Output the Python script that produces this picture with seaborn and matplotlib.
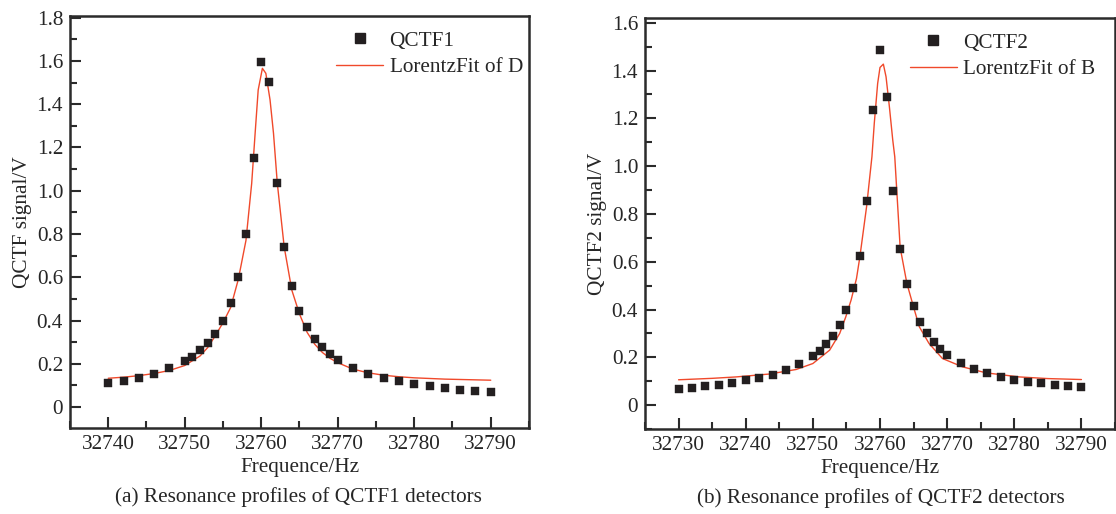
import numpy as np
import pandas as pd
import matplotlib
matplotlib.use("Agg")
import matplotlib.pyplot as plt
from matplotlib.ticker import MultipleLocator
from matplotlib.lines import Line2D
import seaborn as sns

# ---------------- data ----------------
freq1 = [32740, 32742, 32744, 32746, 32748, 32750, 32751, 32752, 32753, 32754,
         32755, 32756, 32757, 32758, 32759, 32760, 32761, 32762, 32763, 32764,
         32765, 32766, 32767, 32768, 32769, 32770, 32772, 32774, 32776, 32778,
         32780, 32782, 32784, 32786, 32788, 32790]
sig1 = [0.111, 0.122, 0.136, 0.154, 0.179, 0.211, 0.233, 0.262, 0.295, 0.338,
        0.397, 0.480, 0.600, 0.801, 1.150, 1.594, 1.501, 1.037, 0.738, 0.559,
        0.444, 0.370, 0.316, 0.276, 0.244, 0.218, 0.181, 0.154, 0.133, 0.119,
        0.105, 0.096, 0.088, 0.080, 0.074, 0.069]

fit1_x = [32740, 32742, 32744, 32746, 32748, 32750, 32752, 32753, 32754, 32755,
          32756, 32757, 32758, 32758.75, 32759.2, 32759.6, 32760.15, 32760.6,
          32761.15, 32761.6, 32762.1, 32763, 32764, 32765, 32766, 32767, 32768,
          32769, 32770, 32772, 32774, 32776, 32778, 32780, 32784, 32790]
fit1_y = [0.133, 0.138, 0.145, 0.155, 0.169, 0.192, 0.236, 0.275, 0.330, 0.390,
          0.460, 0.590, 0.770, 1.034, 1.266, 1.466, 1.566, 1.543,
          1.420, 1.266, 1.034, 0.740, 0.540, 0.430, 0.345, 0.290, 0.252,
          0.225, 0.205, 0.175, 0.158, 0.147, 0.140, 0.135, 0.129, 0.124]

freq2 = [32730, 32732, 32734, 32736, 32738, 32740, 32742, 32744, 32746, 32748,
         32750, 32751, 32752, 32753, 32754, 32755, 32756, 32757, 32758, 32759,
         32760, 32761, 32762, 32763, 32764, 32765, 32766, 32767, 32768, 32769,
         32770, 32772, 32774, 32776, 32778, 32780, 32782, 32784, 32786, 32788,
         32790]
sig2 = [0.068, 0.073, 0.078, 0.086, 0.093, 0.103, 0.114, 0.128, 0.146, 0.172,
        0.205, 0.227, 0.255, 0.290, 0.335, 0.398, 0.490, 0.625, 0.855, 1.234,
        1.488, 1.289, 0.898, 0.654, 0.508, 0.413, 0.347, 0.300, 0.262, 0.234,
        0.211, 0.177, 0.152, 0.133, 0.117, 0.106, 0.098, 0.091, 0.084, 0.080,
        0.074]

fit2_x = [32730, 32735, 32738.6, 32743.5, 32747.5, 32750, 32752.5, 32754, 32754.9,
          32755.7, 32756.5, 32757, 32758, 32758.8, 32759.15, 32759.65, 32760.0,
          32760.5, 32760.9, 32761.4, 32761.9, 32762.2, 32763, 32764, 32764.9,
          32765.85, 32767.3, 32769.3, 32772.3, 32775.8, 32780.7, 32785, 32790]
fit2_y = [0.106, 0.112, 0.118, 0.130, 0.149, 0.174, 0.230, 0.300, 0.369,
          0.440, 0.530, 0.620, 0.830, 1.040, 1.180, 1.346, 1.413,
          1.427, 1.374, 1.248, 1.109, 1.039, 0.660, 0.510, 0.420,
          0.328, 0.258, 0.195, 0.160, 0.135, 0.118, 0.111, 0.107]

xticks1 = [32740, 32750, 32760, 32770, 32780, 32790]
xticks2 = [32730, 32740, 32750, 32760, 32770, 32780, 32790]
yticks1 = [0, 0.2, 0.4, 0.6, 0.8, 1.0, 1.2, 1.4, 1.6, 1.8]
yticks2 = [0, 0.2, 0.4, 0.6, 0.8, 1.0, 1.2, 1.4, 1.6]
ytick_labels1 = ["0", "0.2", "0.4", "0.6", "0.8", "1.0", "1.2", "1.4", "1.6", "1.8"]
ytick_labels2 = ["0", "0.2", "0.4", "0.6", "0.8", "1.0", "1.2", "1.4", "1.6"]

# ---------------- style ----------------
sns.set_style("ticks")
plt.rcParams["font.family"] = ["Liberation Serif", "DejaVu Serif"]
plt.rcParams["mathtext.fontset"] = "stix"

FS = 15.3
MARK = "#231f20"
RED = "#f0492b"
SPINE = "#2b2b2b"

fig = plt.figure(figsize=(11.16, 5.14), dpi=100)
ax1 = fig.add_axes([70 / 1116, 86 / 514, 459 / 1116, 412 / 514])
ax2 = fig.add_axes([645 / 1116, 85 / 514, 470 / 1116, 411 / 514])

df1 = pd.DataFrame({"f": freq1, "s": sig1})
df1f = pd.DataFrame({"f": fit1_x, "s": fit1_y})
df2 = pd.DataFrame({"f": freq2, "s": sig2})
df2f = pd.DataFrame({"f": fit2_x, "s": fit2_y})


def draw(ax, df, dff, xlim, ylim, xticks, yticks, ylabels, ylabel,
         name, fitname, leg_x):
    sns.lineplot(data=dff, x="f", y="s", ax=ax, color=RED, linewidth=1.0,
                 estimator=None, sort=False, zorder=2)
    sns.scatterplot(data=df, x="f", y="s", ax=ax, marker="s", s=40,
                    color=MARK, edgecolor=MARK, linewidth=0.3, zorder=3)
    ax.set_xlim(*xlim)
    ax.set_ylim(*ylim)
    ax.set_xticks(xticks)
    ax.set_xticklabels([str(t) for t in xticks])
    ax.set_yticks(yticks)
    ax.set_yticklabels(ylabels)
    ax.xaxis.set_minor_locator(MultipleLocator(5))
    ax.yaxis.set_minor_locator(MultipleLocator(0.1))
    ax.tick_params(which="major", direction="in", length=8, width=1.5,
                   color=SPINE, labelsize=FS, pad=5, top=False, right=False)
    ax.tick_params(which="minor", direction="in", length=5, width=1.5,
                   color=SPINE, top=False, right=False)
    for sp in ax.spines.values():
        sp.set_visible(True)
        sp.set_linewidth(1.8)
        sp.set_color(SPINE)
    ax.set_xlabel("Frequence/Hz", fontsize=FS, labelpad=3)
    ax.set_ylabel(ylabel, fontsize=FS, labelpad=3)
    handles = [
        Line2D([], [], marker="s", linestyle="none", color=MARK, markersize=6.5),
        Line2D([], [], color=RED, linewidth=1.0),
    ]
    ax.legend(handles, [name, fitname], loc="upper left",
              bbox_to_anchor=(leg_x, 1.0), frameon=False, fontsize=FS,
              handlelength=2.2, handletextpad=0.3, labelspacing=0.3,
              borderaxespad=0.3)


draw(ax1, df1, df1f, (32735, 32795), (-0.097, 1.808), xticks1, yticks1,
     ytick_labels1, "QCTF signal/V", "QCTF1", "LorentzFit of D", 0.548)
draw(ax2, df2, df2f, (32725, 32795), (-0.1, 1.62), xticks2, yticks2,
     ytick_labels2, "QCTF2 signal/V", "QCTF2", "LorentzFit of B", 0.532)

fig.text(298 / 1116, 1 - 497 / 514, "(a) Resonance profiles of QCTF1 detectors",
         ha="center", va="center", fontsize=FS)
fig.text(881 / 1116, 1 - 498 / 514, "(b) Resonance profiles of QCTF2 detectors",
         ha="center", va="center", fontsize=FS)

fig.savefig("out.png", dpi=100, facecolor="white")
